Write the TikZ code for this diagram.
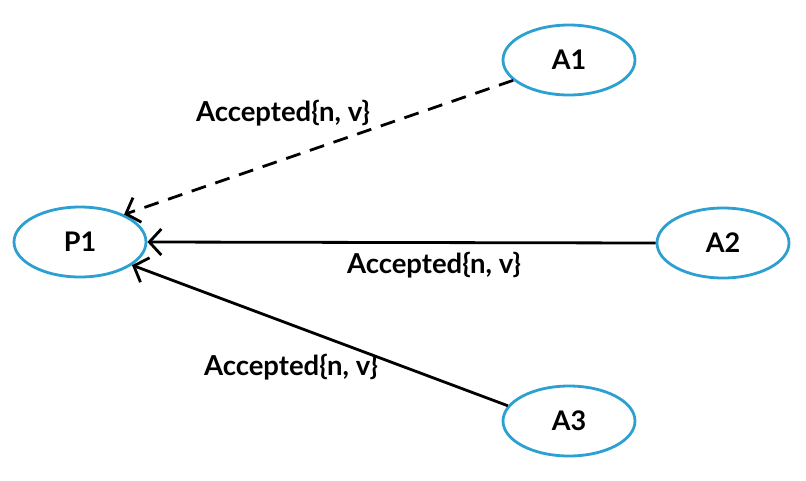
\documentclass[tikz,border=0pt]{standalone}
\usepackage{fontspec}
\setmainfont{Lato}
\usetikzlibrary{arrows.meta,shapes.geometric}
\definecolor{nodeblue}{RGB}{45,160,210}
\tikzset{
  agent/.style={ellipse,draw=nodeblue,line width=2.8pt,minimum width=132pt,minimum height=70pt,inner sep=0pt,font=\bfseries\fontsize{27}{32}\selectfont},
  msg/.style={line width=2.8pt,-{Straight Barb[length=12pt,width=26pt,line width=2.8pt]}},
  lbl/.style={font=\bfseries\fontsize{27.5}{32}\selectfont,inner sep=1pt}
}
\begin{document}
\begin{tikzpicture}[x=1pt,y=-1pt]
\useasboundingbox[fill=white] (0,0) rectangle (806,480);
\node[agent] (p1) at (80,242) {P1};
\node[agent] (a1) at (569,60) {A1};
\node[agent] (a2) at (723,243) {A2};
\node[agent] (a3) at (569,421) {A3};
\draw[msg,dashed,dash pattern=on 15pt off 10pt] (a1.-160) -- (p1.32);
\draw[msg] (a2.west) -- (p1.east);
\draw[msg] (a3.166) -- (p1.-24);
\node[lbl] (l1) at (283,113) {Accepted\{n, v\}};
\node[lbl] (l2) at (434,265) {Accepted\{n, v\}};
\node[lbl] (l3) at (291,367) {Accepted\{n, v\}};
\end{tikzpicture}
\end{document}
